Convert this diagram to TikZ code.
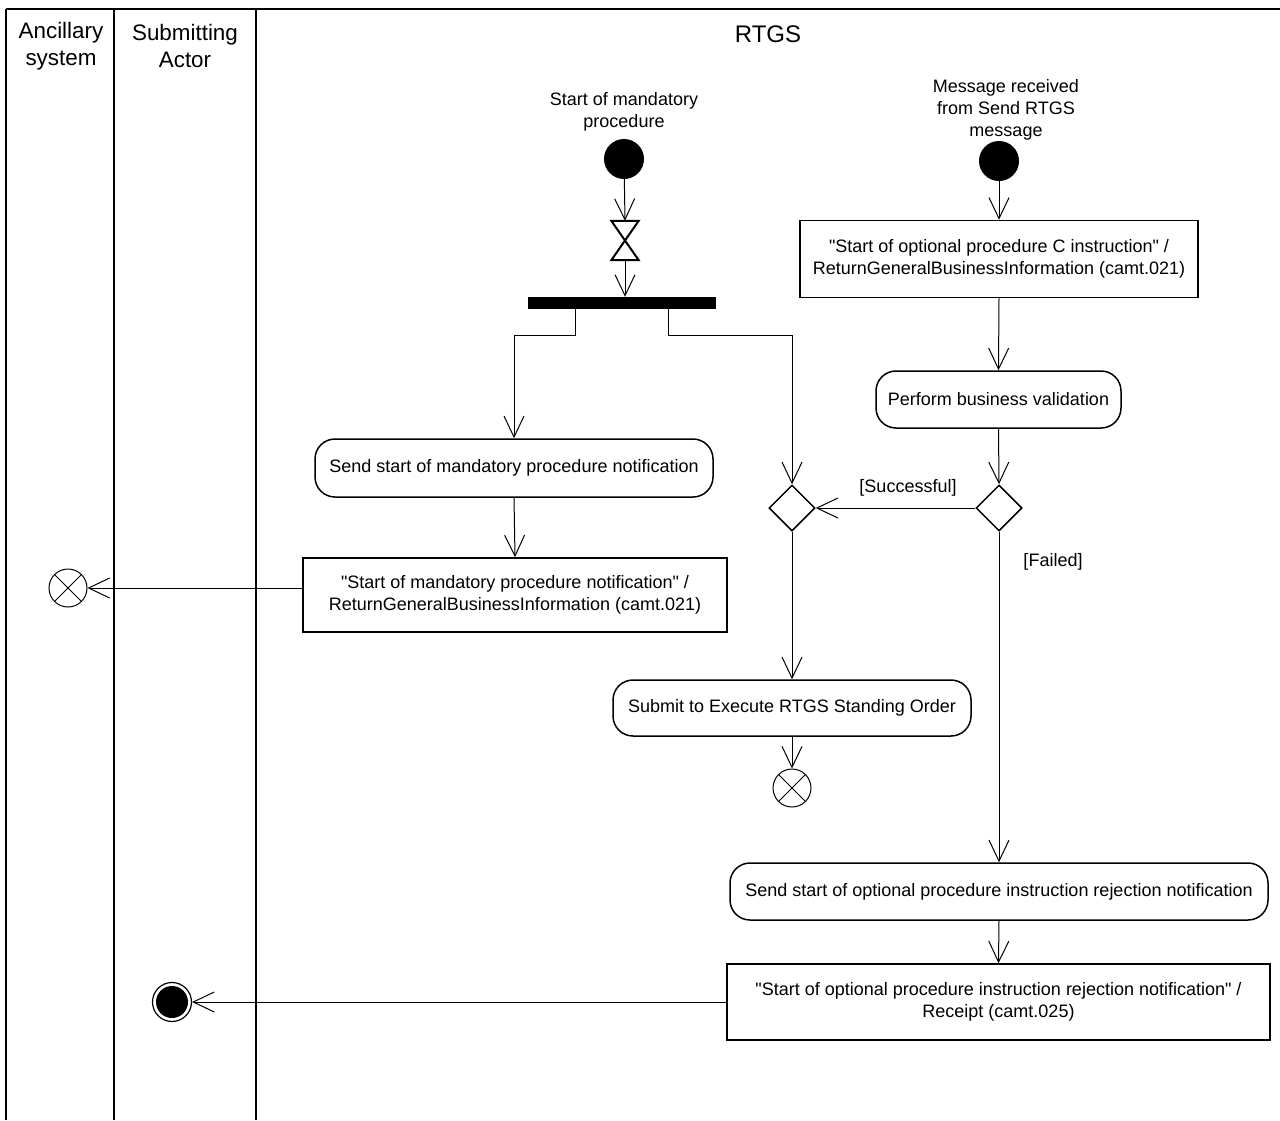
\documentclass[tikz,border=0pt]{standalone}
\usepackage{fontspec}
\setmainfont{Liberation Sans}
\usetikzlibrary{arrows.meta,shapes.geometric}
\newcommand{\bodyfont}{\fontsize{18}{22}\selectfont}
\newcommand{\lanefont}{\fontsize{22.4}{27}\selectfont}
\newcommand{\q}{\textquotedbl}
\begin{document}
\begin{tikzpicture}[x=1pt,y=-1pt,
  flow/.style={draw, line width=1pt, -{Straight Barb[length=21pt,width=20pt,line width=1pt]}},
  actionbox/.style={draw, line width=1.5pt, rounded corners=20pt, align=center, inner sep=0pt, font=\bodyfont},
  msgbox/.style={draw, line width=1.5pt, align=center, inner sep=0pt, font=\bodyfont},
  startnode/.style={circle, fill=black, minimum size=40pt, inner sep=0pt},
  decision/.style={diamond, draw, line width=1.5pt, minimum width=46pt, minimum height=46pt, inner sep=0pt, aspect=1},
  flowfinal/.style={circle, draw, line width=1pt, minimum size=38pt, inner sep=0pt},
  lbl/.style={align=center, font=\bodyfont, inner sep=0pt},
  lanehead/.style={align=center, font=\lanefont, inner sep=0pt},
  lane/.style={line width=2pt}
]
\useasboundingbox (0,0) rectangle (1280,1120);

% swimlanes
\draw[lane] (6,9) -- (1280,9);
\draw[lane] (6,9) -- (6,1120);
\draw[lane] (114,9) -- (114,1120);
\draw[lane] (256,9) -- (256,1120);
\node[lanehead] (hA) at (61,46) {Ancillary\\system};
\node[lanehead] (hS) at (185,46) {Submitting\\Actor};
\node[lanehead, font=\fontsize{24}{28}\selectfont] (hR) at (768,34) {RTGS};

% left branch
\node[lbl] (lab1) at (624,112) {Start of mandatory\\procedure};
\node[startnode] (s1) at (624,159) {};
\node[minimum width=27pt, minimum height=39pt, inner sep=0pt] (hg) at (625,240.5) {};
\draw[line width=2pt, line join=miter] (hg.north west) -- (hg.north east) -- (hg.south west) -- (hg.south east) -- cycle;
\node[fill=black, minimum width=188pt, minimum height=12pt, inner sep=0pt] (bar) at (622,303) {};
\coordinate (bl) at (575,309);
\coordinate (br) at (668,309);

\node[actionbox, minimum width=398pt, minimum height=58pt] (a1) at (514,468) {Send start of mandatory procedure notification};
\node[msgbox, minimum width=424pt, minimum height=74pt] (b1) at (515,595) {\q Start of mandatory procedure notification\q{} /\\ReturnGeneralBusinessInformation (camt.021)};
\node[flowfinal] (ff1) at (68,588) {};
\draw[line width=1pt] (ff1.45) -- (ff1.225) (ff1.135) -- (ff1.315);

% right branch
\node[lbl] (lab2) at (1006,110) {Message received\\from Send RTGS\\message};
\node[startnode] (s2) at (999,161) {};
\node[msgbox, minimum width=398pt, minimum height=77pt] (b2) at (999,259) {\q Start of optional procedure C instruction\q{} /\\ReturnGeneralBusinessInformation (camt.021)};
\node[actionbox, minimum width=245pt, minimum height=57pt] (a2) at (998.5,399.5) {Perform business validation};
\node[decision] (d2) at (999,508) {};
\node[decision] (d1) at (792,508) {};
\node[actionbox, minimum width=358pt, minimum height=56pt] (a3) at (792,708) {Submit to Execute RTGS Standing Order};
\node[flowfinal] (ff2) at (792,788) {};
\draw[line width=1pt] (ff2.45) -- (ff2.225) (ff2.135) -- (ff2.315);
\node[actionbox, minimum width=538pt, minimum height=57pt] (a4) at (999,891.5) {Send start of optional procedure instruction rejection notification};
\node[msgbox, minimum width=543pt, minimum height=76pt] (b4) at (998.5,1002) {\q Start of optional procedure instruction rejection notification\q{} /\\Receipt (camt.025)};
\node[circle, draw, line width=1.2pt, minimum size=39pt, inner sep=0pt,
  path picture={\fill (path picture bounding box.center) circle (16pt);}] (fin) at (172,1002) {};

% connectors
\draw[flow] (s1) -- (hg.north);
\draw[flow] (hg.south) -- (hg.south |- bar.north);
\draw[flow] (bl) -- ++(0,26) -| (a1.north);
\draw[flow] (br) -- ++(0,26) -| (d1.north);
\draw[flow] (a1.south) -- (b1.north);
\draw[flow] (b1.west |- ff1.east) -- (ff1.east);
\draw[flow] (s2) -- (b2.north);
\draw[flow] (b2.south) -- (a2.north);
\draw[flow] (a2.south) -- (d2.north);
\draw[flow] (d2.west) -- (d1.east);
\node[lbl] (lsucc) at (908,488) {[Successful]};
\draw[flow] (d2.south) -- (a4.north);
\node[lbl] (lfail) at (1053,562) {[Failed]};
\draw[flow] (d1.south) -- (a3.north);
\draw[flow] (a3.south) -- (ff2.north);
\draw[flow] (a4.south) -- (b4.north);
\draw[flow] (b4.west |- fin.east) -- (fin.east);
\end{tikzpicture}
\end{document}
